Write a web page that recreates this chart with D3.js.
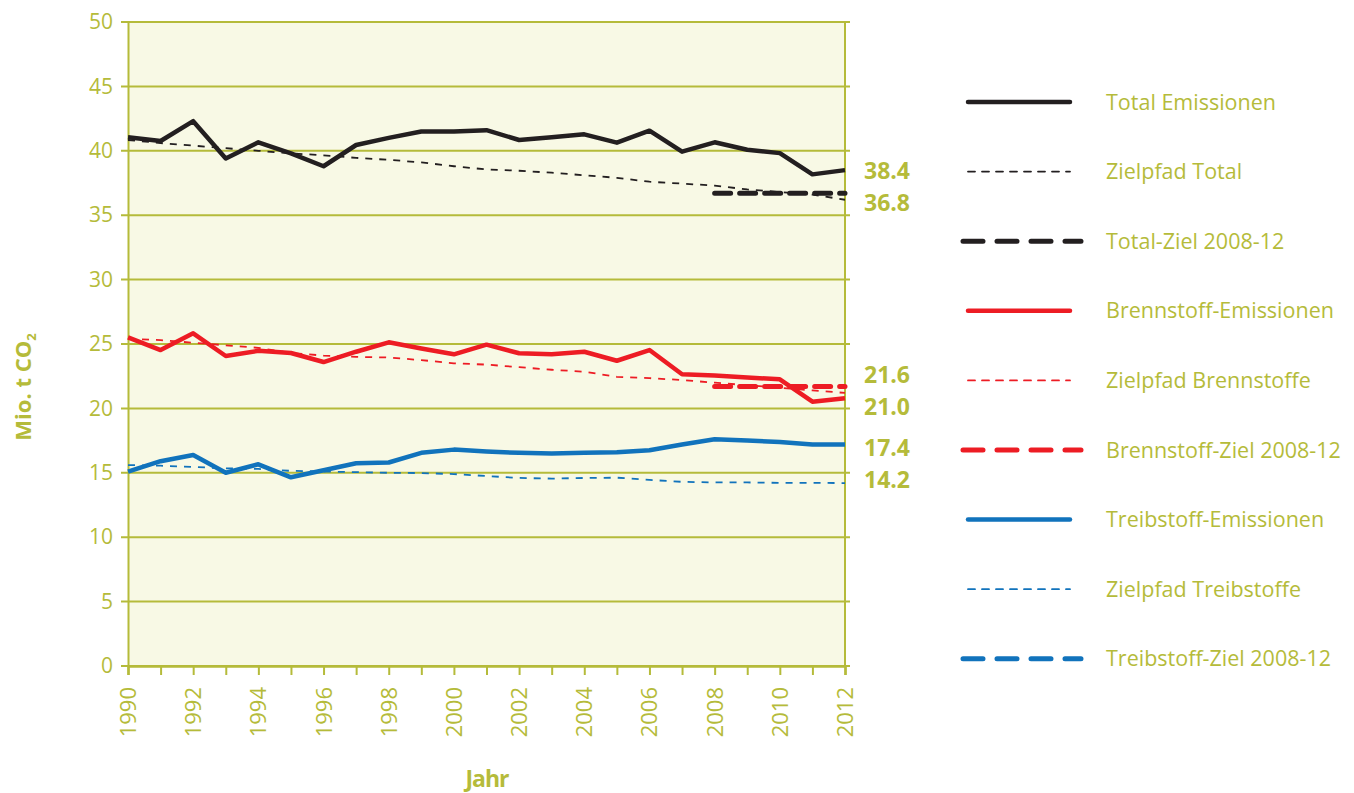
<!DOCTYPE html>
<html lang="de">
<head>
    <meta charset="UTF-8">
    <title>CO2 Emissionen</title>
    <script src="https://d3js.org/d3.v7.min.js"></script>
    <style>
        body { margin: 0; background: #fff; }
        svg text { font-family: "Open Sans", "Noto Sans", sans-serif; fill: #b5bb3a; }
        .line { fill: none; }
    </style>
</head>
<body>
    <svg width="1354" height="793"></svg>

    <script>
        // years 1990..2012
        const years = d3.range(1990, 2013);
        const yearLabels = d3.range(1990, 2013, 2);

        const totalEmissionen = [41.05, 40.76, 42.3, 39.4, 40.66, 39.8, 38.8, 40.45, 41.0, 41.5, 41.5, 41.6,
            40.84, 41.05, 41.28, 40.63, 41.56, 39.93, 40.66, 40.08, 39.82, 38.17, 38.5];
        const zielpfadTotal = [40.84, 40.6, 40.4, 40.2, 40.0, 39.8, 39.65, 39.45, 39.3, 39.1, 38.8, 38.55,
            38.45, 38.3, 38.1, 37.9, 37.6, 37.45, 37.3, 37.0, 36.8, 36.6, 36.2];
        const totalZiel = [36.7, 36.7, 36.7, 36.7, 36.7];

        const brennstoffEmissionen = [25.52, 24.53, 25.83, 24.07, 24.47, 24.3, 23.6, 24.4, 25.13, 24.65, 24.2, 24.95,
            24.28, 24.2, 24.4, 23.7, 24.53, 22.65, 22.55, 22.4, 22.26, 20.52, 20.78];
        const zielpfadBrennstoffe = [25.4, 25.3, 25.1, 24.9, 24.7, 24.3, 24.1, 24.0, 23.95, 23.75, 23.5, 23.4,
            23.2, 23.0, 22.85, 22.45, 22.35, 22.2, 22.0, 21.8, 21.6, 21.4, 21.2];
        const brennstoffZiel = [21.7, 21.7, 21.7, 21.7, 21.7];

        const treibstoffEmissionen = [15.09, 15.9, 16.38, 15.0, 15.66, 14.65, 15.2, 15.74, 15.8, 16.55, 16.8, 16.65,
            16.55, 16.5, 16.55, 16.6, 16.75, 17.2, 17.6, 17.5, 17.4, 17.2, 17.2];
        const zielpfadTreibstoffe = [15.6, 15.55, 15.45, 15.35, 15.3, 15.15, 15.1, 15.05, 15.0, 14.98, 14.9, 14.75,
            14.6, 14.55, 14.6, 14.62, 14.45, 14.3, 14.25, 14.25, 14.22, 14.22, 14.2];
        const treibstoffZiel = [];

        const zielYears = d3.range(2008, 2013);

        const endLabels = ['38.4', '36.8', '21.6', '21.0', '17.4', '14.2'];

        const black = '#231f20', red = '#ed1c24', blue = '#1173bc';

        const series = [
            { name: 'Total Emissionen', color: black, kind: 'solid', years: years, values: totalEmissionen },
            { name: 'Zielpfad Total', color: black, kind: 'thin', years: years, values: zielpfadTotal },
            { name: 'Total-Ziel 2008-12', color: black, kind: 'thick', years: zielYears, values: totalZiel },
            { name: 'Brennstoff-Emissionen', color: red, kind: 'solid', years: years, values: brennstoffEmissionen },
            { name: 'Zielpfad Brennstoffe', color: red, kind: 'thin', years: years, values: zielpfadBrennstoffe },
            { name: 'Brennstoff-Ziel 2008-12', color: red, kind: 'thick', years: zielYears, values: brennstoffZiel },
            { name: 'Treibstoff-Emissionen', color: blue, kind: 'solid', years: years, values: treibstoffEmissionen },
            { name: 'Zielpfad Treibstoffe', color: blue, kind: 'thin', years: years, values: zielpfadTreibstoffe },
            { name: 'Treibstoff-Ziel 2008-12', color: blue, kind: 'thick', years: zielYears, values: treibstoffZiel }
        ];

        const styles = {
            solid: { width: 4.5, dash: null, cap: 'butt' },
            thin: { width: 1.8, dash: '7,7', cap: 'butt' },
            thick: { width: 5, dash: '16,9', cap: 'round' }
        };

        const olive = '#b5bb3a';
        const svg = d3.select('svg');

        const x = d3.scaleLinear().domain([1990, 2012]).range([128, 845]);
        const y = d3.scaleLinear().domain([0, 50]).range([666, 22]);

        // plot background
        svg.append('rect')
            .attr('x', x(1990)).attr('y', y(50))
            .attr('width', x(2012) - x(1990)).attr('height', y(0) - y(50))
            .attr('fill', '#f8f9e5');

        // gridlines
        svg.append('g')
            .selectAll('line')
            .data(d3.range(0, 51, 5))
            .enter()
            .append('line')
            .attr('x1', x(1990) - 7).attr('x2', x(2012) + 5)
            .attr('y1', d => y(d)).attr('y2', d => y(d))
            .attr('stroke', olive).attr('stroke-width', 2);

        // y axis
        const yAxis = svg.append('g')
            .attr('transform', `translate(${x(1990)},0)`)
            .call(d3.axisLeft(y).tickValues(d3.range(0, 51, 5)).tickSize(0).tickPadding(15));
        yAxis.select('.domain').attr('stroke', olive).attr('stroke-width', 2);
        yAxis.selectAll('text').attr('font-size', 21).attr('fill', olive);

        // right border
        svg.append('line')
            .attr('x1', x(2012)).attr('x2', x(2012))
            .attr('y1', y(50)).attr('y2', y(0))
            .attr('stroke', olive).attr('stroke-width', 2);

        // x axis
        const xAxis = svg.append('g')
            .attr('transform', `translate(0,${y(0)})`)
            .call(d3.axisBottom(x).tickValues(years).tickSize(9).tickFormat(''));
        xAxis.select('.domain').attr('stroke', olive).attr('stroke-width', 2.5);
        xAxis.selectAll('.tick line').attr('stroke', olive).attr('stroke-width', 2);

        svg.append('g')
            .selectAll('text')
            .data(yearLabels)
            .enter()
            .append('text')
            .attr('transform', d => `translate(${x(d) + 8},${y(0) + 21}) rotate(-90)`)
            .attr('text-anchor', 'end')
            .attr('font-size', 22)
            .text(d => d);

        // lines
        const line = d3.line()
            .x(d => x(d[0]))
            .y(d => y(d[1]));

        svg.append('g')
            .selectAll('path')
            .data(series.filter(s => s.values.length))
            .enter()
            .append('path')
            .attr('class', 'line')
            .attr('d', s => line(s.values.map((v, i) => [s.years[i], v])))
            .attr('stroke', s => s.color)
            .attr('stroke-width', s => styles[s.kind].width)
            .attr('stroke-dasharray', s => styles[s.kind].dash)
            .attr('stroke-linecap', s => styles[s.kind].cap)
            .attr('stroke-linejoin', 'round');

        // end value labels
        const labelY = [171, 203, 375, 407, 448, 480];
        svg.append('g')
            .selectAll('text')
            .data(endLabels)
            .enter()
            .append('text')
            .attr('x', 864)
            .attr('y', (d, i) => labelY[i])
            .attr('dy', '0.35em')
            .attr('font-size', 23)
            .attr('font-weight', 700)
            .text(d => d);

        // axis titles
        svg.append('text')
            .attr('transform', 'translate(31,387) rotate(-90)')
            .attr('text-anchor', 'middle')
            .attr('font-size', 22)
            .attr('font-weight', 700)
            .text('Mio. t CO')
            .append('tspan')
            .attr('font-size', 13)
            .attr('dy', 5)
            .text('2');

        svg.append('text')
            .attr('x', 487).attr('y', 787)
            .attr('text-anchor', 'middle')
            .attr('font-size', 23)
            .attr('font-weight', 700)
            .attr('letter-spacing', -1)
            .text('Jahr');

        // legend
        const legend = svg.append('g')
            .selectAll('g')
            .data(series)
            .enter()
            .append('g')
            .attr('transform', (d, i) => `translate(0,${102 + i * 69.6})`);

        legend.append('line')
            .attr('x1', d => d.kind === 'thick' ? 963 : 968)
            .attr('x2', d => d.kind === 'thick' ? 1081 : 1070)
            .attr('stroke', d => d.color)
            .attr('stroke-width', d => styles[d.kind].width)
            .attr('stroke-dasharray', d => d.kind === 'thick' ? '20,14' : styles[d.kind].dash)
            .attr('stroke-linecap', 'round');

        legend.append('text')
            .attr('x', 1106)
            .attr('dy', '0.35em')
            .attr('font-size', 21.5)
            .text(d => d.name);
    </script>
</body>
</html>
